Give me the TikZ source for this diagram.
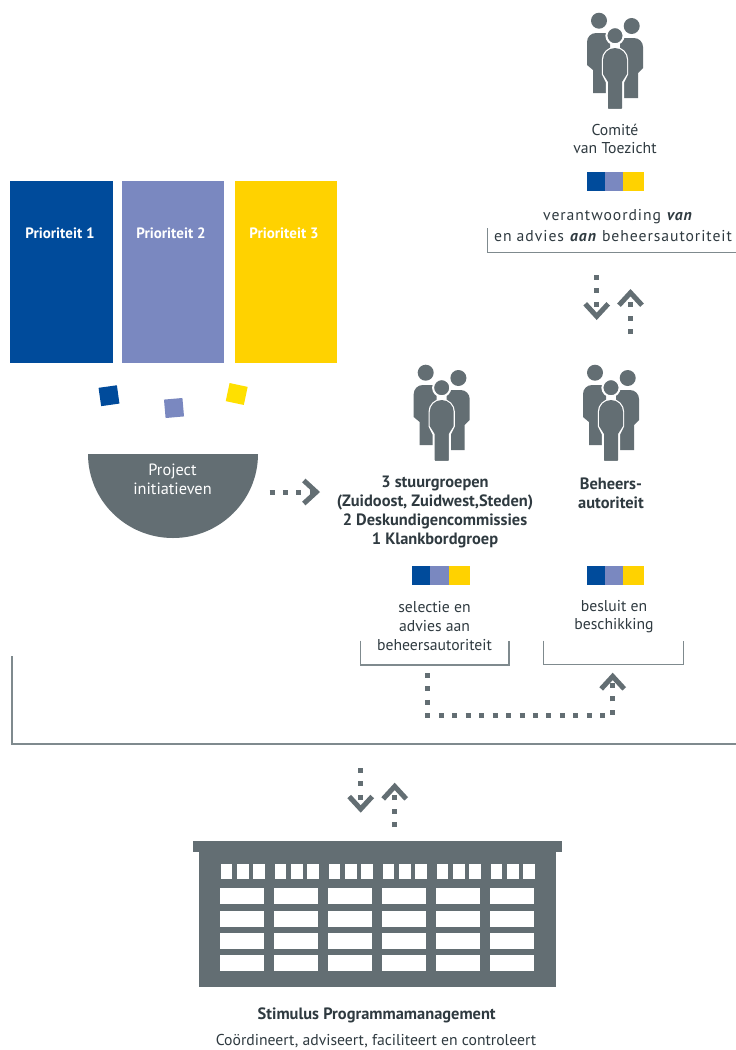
\documentclass[tikz,border=0pt]{standalone}
\usepackage{fontspec}
\setmainfont{PT Sans}
\newfontfamily\widefont[LetterSpace=6.0]{PT Sans}
\usetikzlibrary{arrows.meta}
\definecolor{gr}{HTML}{636E73}
\definecolor{linegr}{HTML}{7F8A8E}
\definecolor{txt}{HTML}{2F3A40}
\definecolor{bl}{HTML}{004B9B}
\definecolor{pe}{HTML}{7A88C0}
\definecolor{ye}{HTML}{FFD200}
\definecolor{ye2}{HTML}{FFE000}
\tikzset{
  x=1pt,y=-1pt,
  prio/.style={inner sep=0,outer sep=0,minimum height=182pt,anchor=north west},
  priolabel/.style={text=white,font=\fontsize{15}{18}\selectfont\bfseries,inner sep=0},
  lab/.style={text=txt,align=center,inner sep=0,font=\fontsize{15.7}{18.6}\selectfont},
  blab/.style={lab,font=\fontsize{16.4}{18.8}\selectfont\bfseries},
  chip/.style={minimum size=18.5pt,inner sep=0,outer sep=0},
  dots/.style={gr,line width=5pt,dash pattern=on 5pt off 8.45pt,
    -{Straight Barb[length=12.5pt,width=23pt,line width=5pt]}},
  bracket/.style={linegr,line width=1.4pt},
  people/.pic={
    \fill[gr] (-28,42) arc[start angle=180,end angle=270,radius=9] -- (-5,33) -- (-5,93) -- (-22,93) -- (-22,70) -- (-28,65) -- cycle;
    \fill[gr] (28,47) arc[start angle=0,end angle=-90,radius=9] -- (5,38) -- (5,98) -- (23,98) -- (23,73) -- (28,68) -- cycle;
    \fill[gr,draw=white,line width=2.4pt] (-12,60) arc[start angle=180,end angle=360,radius=12] -- (12,74) -- (8,82) -- (8,110) -- (-8,110) -- (-8,82) -- (-12,74) -- cycle;
    \fill[gr] (-12,60) arc[start angle=180,end angle=360,radius=12] -- (12,74) -- (7,82) -- (7,108) -- (-7,108) -- (-7,82) -- (-12,74) -- cycle;
    \fill[gr] (-16,20.7) circle[radius=8];
    \fill[gr] (16.7,26) circle[radius=8];
    \fill[gr,draw=white,line width=2pt] (0,35.7) circle[radius=8.6];
  },
  strip/.pic={
    \fill[bl] (0,0) rectangle (18,19.3);
    \fill[pe] (18,0) rectangle (36.5,19.3);
    \fill[ye] (36.5,0) rectangle (57.5,19.3);
  },
}
\begin{document}
\begin{tikzpicture}
\useasboundingbox[fill=white] (0,0) rectangle (736,1050);

% priorities
\node[prio,fill=bl,minimum width=103pt] (p1) at (10,181) {};
\node[prio,fill=pe,minimum width=102pt] (p2) at (122,181) {};
\node[prio,fill=ye,minimum width=102pt] (p3) at (235,181) {};
\node[priolabel] (p1t) at (60,233) {Prioriteit 1};
\node[priolabel] (p2t) at (171,233) {Prioriteit 2};
\node[priolabel] (p3t) at (284,233) {Prioriteit 3};

% falling squares
\node[chip,fill=bl,rotate=8] (s1) at (109,395.7) {};
\node[chip,fill=pe,rotate=5] (s2) at (174,408) {};
\node[chip,fill=ye2,rotate=-12] (s3) at (236.7,394) {};

% bowl
\fill[gr] (88,454) arc[start angle=180,end angle=360,x radius=85,y radius=-84] -- cycle;
\node[lab,text=white,font=\fontsize{16.3}{19}\selectfont] (proj) at (172.5,479) {Project\\initiatieven};

% people icons
\pic at (615,0) {people};
\pic at (441.7,352) {people};
\pic at (611,352) {people};

% strips
\pic at (586.5,171.7) {strip};
\pic at (412,565.7) {strip};
\pic at (586.5,565.7) {strip};

% labels
\node[lab] (comite) at (615,139) {Comité\\van Toezicht};
\node[lab,font=\fontsize{15.7}{21}\selectfont\widefont] (verant) at (613,225.5) {\kern10pt verantwoording \textbf{\textit{van}}\\en advies \textbf{\textit{aan}} beheersautoriteit};
\node[blab] (stuur) at (435,512) {3 stuurgroepen\\(Zuidoost, Zuidwest,Steden)\\2 Deskundigencommissies\\1 Klankbordgroep};
\node[blab] (beheer) at (611,493) {Beheers-\\autoriteit};
\node[lab] (selectie) at (434.5,626) {selectie en\\advies aan\\beheersautoriteit};
\node[lab] (besluit) at (614,616.5) {besluit en\\beschikking};
\node[blab] (stim) at (376.7,1015) {Stimulus Programmamanagement};
\node[lab] (coord) at (376,1041) {Coördineert, adviseert, faciliteert en controleert};

% brackets
\coordinate (b1a) at (487.3,228);
\coordinate (b1b) at (736,252.5);
\draw[bracket] (b1a) |- (b1b);
\coordinate (b2a) at (360.7,640.7);
\coordinate (b2b) at (509,640.7);
\draw[bracket] (b2a) -- (360.7,665) -- (509,665) -- (b2b);
\coordinate (b3a) at (543.3,640.7);
\coordinate (b3b) at (683.3,640.7);
\draw[bracket] (b3a) -- (543.3,664.5) -- (683.3,664.5) -- (b3b);
\coordinate (b4a) at (12,656);
\coordinate (b4b) at (736,744);
\draw[bracket] (b4a) |- (b4b);

% building
\fill[gr] (192.7,841) rectangle (562.3,851.7);
\fill[gr] (199.3,851) rectangle (556,987.3);
\foreach \i in {0,...,5}{
  \foreach \j in {0,1,2}{
    \fill[white] ({221+54*\i+16.1*\j},864) rectangle ++(11.4,15);
  }
  \foreach \y in {888.3,910.7,933.3,955}{
    \fill[white] ({220+54*\i},\y) rectangle ++(44.3,16);
  }
}

% connectors
\coordinate (a1) at (269.5,492);
\coordinate (a2) at (320,492);
\draw[dots] (a1) -- (a2);
\coordinate (c1) at (596.7,275);
\coordinate (c2) at (596.7,320);
\draw[dots] (c1) -- (c2);
\coordinate (c3) at (630.5,334);
\coordinate (c4) at (630.5,289);
\draw[dots] (c3) -- (c4);
\coordinate (m1) at (427.7,673);
\coordinate (m2) at (427.7,715.7);
\coordinate (m3) at (612.7,715.7);
\coordinate (m4) at (612.7,672.7);
\draw[dots] (m1) -- (m2) -- (m3) -- (m4);
\coordinate (d1) at (360.7,768);
\coordinate (d2) at (360.7,812.7);
\draw[dots] (d1) -- (d2);
\coordinate (d3) at (394.7,827);
\coordinate (d4) at (394.7,782.7);
\draw[dots] (d3) -- (d4);
\end{tikzpicture}
\end{document}
